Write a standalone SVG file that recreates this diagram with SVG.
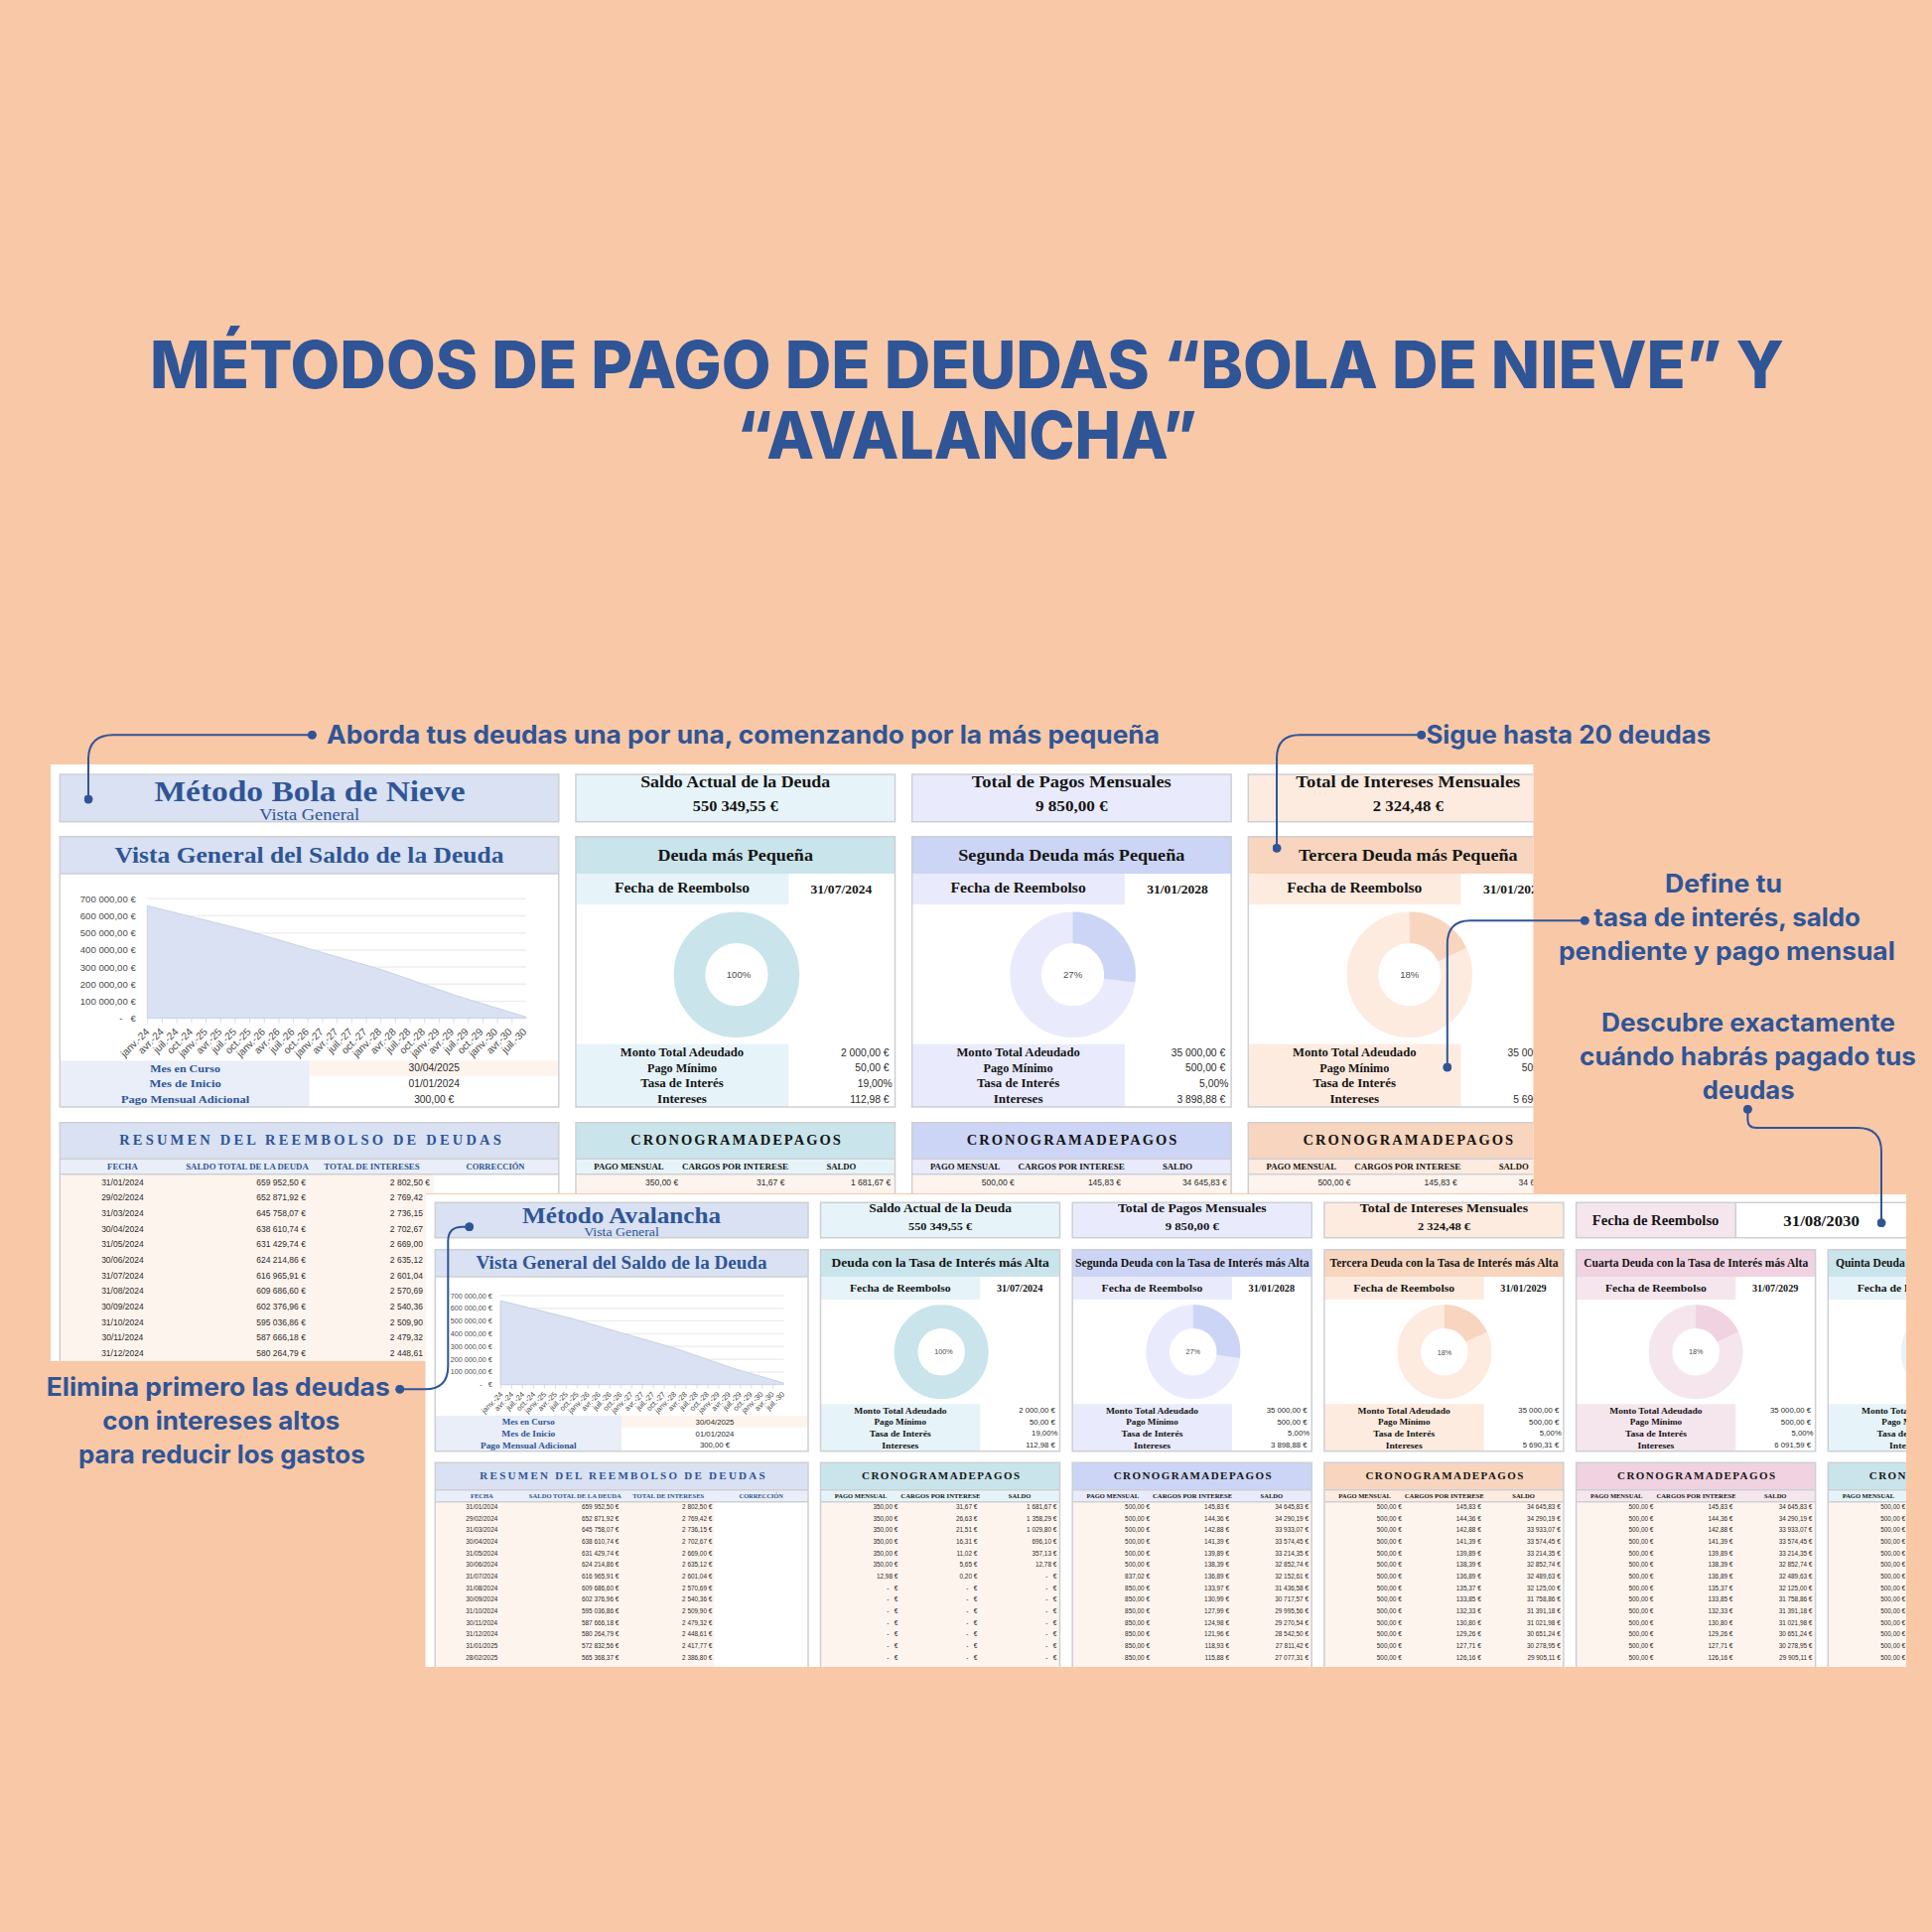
<svg xmlns="http://www.w3.org/2000/svg" width="1946" height="1946" viewBox="0 0 1946 1946">
<style>
text{font-family:"Liberation Serif",serif}
.m{text-anchor:middle}.e{text-anchor:end}
.t{font-family:"Inter","Liberation Sans",sans-serif;font-weight:800;font-size:66px;fill:#2f5597;text-anchor:middle}
.c{font-family:"Inter","Liberation Sans",sans-serif;font-weight:700;font-size:25px;fill:#2f5597}
.b{font-weight:700}.bl{fill:#2f5597}.k{fill:#151515}
.a{font-family:"Liberation Sans",sans-serif;fill:#2a2a2a}
.g{font-family:"Liberation Sans",sans-serif;fill:#4c4c4c}
.a1{font-size:8.5px}.a1v{font-size:10.3px}.a2{font-size:6.4px}.a2v{font-size:7.75px}
.g1{font-size:9.6px}.g2{font-size:7.2px}
.xl text{font-size:10.3px}.xm text{font-size:7.7px}
.box{fill:none;stroke:#cdcfd3;stroke-width:1.5}
.grid{stroke:#eeeeee;stroke-width:1.5}
.area{stroke:#c8d2e8;stroke-width:1}
.tick{fill:none;stroke:#dedede}
.blue{fill:#d9e1f2}.blueL{fill:#e9eef8}.row{fill:#fef4ee}
.teal{fill:#c9e4eb}.tealL{fill:#e6f4f9}
.peri{fill:#ccd5f5}.periL{fill:#e9ebfd}
.pch{fill:#f8d5be}.pchL{fill:#feebdf}
.pnk{fill:#f0d2e1}.pnkL{fill:#f5e6ee}
.conn{fill:none;stroke:#2f5597;stroke-width:2;marker-start:url(#dot);marker-end:url(#dot)}
.ring{fill:none}
</style>
<defs>
<marker id="dot" viewBox="0 0 10 10" refX="5" refY="5" markerWidth="9" markerHeight="9" markerUnits="userSpaceOnUse"><circle cx="5" cy="5" r="5" fill="#2f5597"/></marker>
<clipPath id="clipA"><rect x="51" y="770" width="1493.4" height="432"/><rect x="51" y="1202" width="377.3" height="169"/></clipPath>
<clipPath id="clipB"><rect x="428.3" y="1203" width="1491.7" height="476"/></clipPath>
<clipPath id="ca"><rect x="106.5" y="1167" width="107.8" height="16"/></clipPath>
<clipPath id="cb"><rect x="80.3" y="1500" width="80.4" height="13"/></clipPath>
</defs>
<rect width="1946" height="1946" fill="#f9c8a7"/>
<g id="title">
<text class="t" x="974" y="391" textLength="1646" lengthAdjust="spacingAndGlyphs">MÉTODOS DE PAGO DE DEUDAS “BOLA DE NIEVE” Y</text>
<text class="t" x="974" y="462" textLength="464" lengthAdjust="spacingAndGlyphs">“AVALANCHA”</text>
</g>

<g id="sheet-bola" clip-path="url(#clipA)">
<rect x="51" y="770" width="1494" height="602" fill="#fff"/>
<g id="bola-header">
<rect class="blue" x="60.3" y="780" width="502.5" height="47.7"/><rect class="box" x="60.3" y="780" width="502.5" height="47.7"/>
<text class="b bl m" x="312" y="806.7" font-size="30" textLength="313" lengthAdjust="spacingAndGlyphs">Método Bola de Nieve</text>
<text class="bl m" x="311.7" y="825.6" font-size="17" textLength="101" lengthAdjust="spacingAndGlyphs">Vista General</text>
</g>
<g id="bola-chart">
<rect class="blue" x="60.3" y="842.7" width="502.5" height="37.3"/>
<rect class="blueL" x="60.3" y="1068.3" width="251.4" height="46.7"/><rect class="row" x="311.7" y="1068.3" width="251.1" height="15.7"/>
<rect class="box" x="60.3" y="842.7" width="502.5" height="272.3"/><path class="box" d="M60.3 880H562.8"/>
<text class="b bl m" x="311.5" y="869.3" font-size="24" textLength="392" lengthAdjust="spacingAndGlyphs">Vista General del Saldo de la Deuda</text>
<path class="grid" d="M148.3 905.3H530M148.3 922.5H530M148.3 939.7H530M148.3 956.9H530M148.3 974.1H530M148.3 991.3H530M148.3 1008.5H530"/>
<path class="tick" d="M148.3 1028H530" stroke-width="5" stroke-dasharray="1 13.68"/>
<path class="blue area" d="M148.3 1025.7V912.3L246.7 936.7L311.7 955.7L384.4 976.7L461 1003.3L529.9 1024.3V1025.7Z"/>
<g>
<text class="g g1 e" x="136.8" y="908.7">700 000,00 €</text>
<text class="g g1 e" x="136.8" y="925.9">600 000,00 €</text>
<text class="g g1 e" x="136.8" y="943.1">500 000,00 €</text>
<text class="g g1 e" x="136.8" y="960.3">400 000,00 €</text>
<text class="g g1 e" x="136.8" y="977.5">300 000,00 €</text>
<text class="g g1 e" x="136.8" y="994.7">200 000,00 €</text>
<text class="g g1 e" x="136.8" y="1011.9">100 000,00 €</text>
<text class="g g1 e" x="136.8" y="1029.1">-&#160;&#160;&#160;€</text>
</g>
<g class="xl">
<text class="g g1 e" x="151" y="1040" transform="rotate(-45 151 1040)">janv.-24</text>
<text class="g g1 e" x="165.6" y="1040" transform="rotate(-45 165.6 1040)">avr.-24</text>
<text class="g g1 e" x="180.2" y="1040" transform="rotate(-45 180.2 1040)">juil.-24</text>
<text class="g g1 e" x="194.8" y="1040" transform="rotate(-45 194.8 1040)">oct.-24</text>
<text class="g g1 e" x="209.5" y="1040" transform="rotate(-45 209.5 1040)">janv.-25</text>
<text class="g g1 e" x="224.1" y="1040" transform="rotate(-45 224.1 1040)">avr.-25</text>
<text class="g g1 e" x="238.7" y="1040" transform="rotate(-45 238.7 1040)">juil.-25</text>
<text class="g g1 e" x="253.3" y="1040" transform="rotate(-45 253.3 1040)">oct.-25</text>
<text class="g g1 e" x="267.9" y="1040" transform="rotate(-45 267.9 1040)">janv.-26</text>
<text class="g g1 e" x="282.5" y="1040" transform="rotate(-45 282.5 1040)">avr.-26</text>
<text class="g g1 e" x="297.2" y="1040" transform="rotate(-45 297.2 1040)">juil.-26</text>
<text class="g g1 e" x="311.8" y="1040" transform="rotate(-45 311.8 1040)">oct.-26</text>
<text class="g g1 e" x="326.4" y="1040" transform="rotate(-45 326.4 1040)">janv.-27</text>
<text class="g g1 e" x="341" y="1040" transform="rotate(-45 341 1040)">avr.-27</text>
<text class="g g1 e" x="355.6" y="1040" transform="rotate(-45 355.6 1040)">juil.-27</text>
<text class="g g1 e" x="370.2" y="1040" transform="rotate(-45 370.2 1040)">oct.-27</text>
<text class="g g1 e" x="384.8" y="1040" transform="rotate(-45 384.8 1040)">janv.-28</text>
<text class="g g1 e" x="399.5" y="1040" transform="rotate(-45 399.5 1040)">avr.-28</text>
<text class="g g1 e" x="414.1" y="1040" transform="rotate(-45 414.1 1040)">juil.-28</text>
<text class="g g1 e" x="428.7" y="1040" transform="rotate(-45 428.7 1040)">oct.-28</text>
<text class="g g1 e" x="443.3" y="1040" transform="rotate(-45 443.3 1040)">janv.-29</text>
<text class="g g1 e" x="457.9" y="1040" transform="rotate(-45 457.9 1040)">avr.-29</text>
<text class="g g1 e" x="472.5" y="1040" transform="rotate(-45 472.5 1040)">juil.-29</text>
<text class="g g1 e" x="487.2" y="1040" transform="rotate(-45 487.2 1040)">oct.-29</text>
<text class="g g1 e" x="501.8" y="1040" transform="rotate(-45 501.8 1040)">janv.-30</text>
<text class="g g1 e" x="516.4" y="1040" transform="rotate(-45 516.4 1040)">avr.-30</text>
<text class="g g1 e" x="531" y="1040" transform="rotate(-45 531 1040)">juil.-30</text>
</g>
<text class="b bl m" x="186.6" y="1079.5" font-size="11" textLength="70.8" lengthAdjust="spacingAndGlyphs">Mes en Curso</text>
<text class="b bl m" x="186.6" y="1095.2" font-size="11" textLength="72.3" lengthAdjust="spacingAndGlyphs">Mes de Inicio</text>
<text class="b bl m" x="186.6" y="1110.9" font-size="11" textLength="129.3" lengthAdjust="spacingAndGlyphs">Pago Mensual Adicional</text>
<text class="a a1v m" x="437.2" y="1079.4">30/04/2025</text>
<text class="a a1v m" x="437.2" y="1095.1">01/01/2024</text>
<text class="a a1v m" x="437.2" y="1110.8">300,00 €</text>
</g>
<g id="bola-resumen">
<rect class="blue" x="60.3" y="1130.7" width="502.5" height="36.6"/>
<rect class="blueL" x="60.3" y="1167.3" width="502.5" height="15.4"/>
<rect fill="#fff" x="60.3" y="1182.7" width="502.5" height="190"/>
<rect class="row" x="60.3" y="1182.7" width="376.4" height="190"/>
<path class="box" d="M60.3 1372V1130.7H562.8V1372M60.3 1167.3H562.8M60.3 1182.7H562.8"/>
<text class="b bl m" x="312.5" y="1153" font-size="14.5" textLength="384.6">RESUMEN DEL REEMBOLSO DE DEUDAS</text>
<text class="b bl m" x="123.4" y="1178.3" font-size="9" textLength="30.6" lengthAdjust="spacingAndGlyphs">FECHA</text>
<text class="b bl m" x="249" y="1178.3" font-size="9" textLength="123.6" lengthAdjust="spacingAndGlyphs">SALDO TOTAL DE LA DEUDA</text>
<text class="b bl m" x="374.5" y="1178.3" font-size="9" textLength="96.4" lengthAdjust="spacingAndGlyphs">TOTAL DE INTERESES</text>
<text class="b bl m" x="499" y="1178.3" font-size="9" textLength="59" lengthAdjust="spacingAndGlyphs">CORRECCIÓN</text>
<text class="a a1 m"><tspan x="123.4" y="1193.7">31/01/2024</tspan><tspan x="123.4" dy="15.67">29/02/2024</tspan><tspan x="123.4" dy="15.67">31/03/2024</tspan><tspan x="123.4" dy="15.67">30/04/2024</tspan><tspan x="123.4" dy="15.67">31/05/2024</tspan><tspan x="123.4" dy="15.67">30/06/2024</tspan><tspan x="123.4" dy="15.67">31/07/2024</tspan><tspan x="123.4" dy="15.67">31/08/2024</tspan><tspan x="123.4" dy="15.67">30/09/2024</tspan><tspan x="123.4" dy="15.67">31/10/2024</tspan><tspan x="123.4" dy="15.67">30/11/2024</tspan><tspan x="123.4" dy="15.67">31/12/2024</tspan></text>
<text class="a a1 e"><tspan x="307.9" y="1193.7">659 952,50 €</tspan><tspan x="307.9" dy="15.67">652 871,92 €</tspan><tspan x="307.9" dy="15.67">645 758,07 €</tspan><tspan x="307.9" dy="15.67">638 610,74 €</tspan><tspan x="307.9" dy="15.67">631 429,74 €</tspan><tspan x="307.9" dy="15.67">624 214,86 €</tspan><tspan x="307.9" dy="15.67">616 965,91 €</tspan><tspan x="307.9" dy="15.67">609 686,60 €</tspan><tspan x="307.9" dy="15.67">602 376,96 €</tspan><tspan x="307.9" dy="15.67">595 036,86 €</tspan><tspan x="307.9" dy="15.67">587 666,18 €</tspan><tspan x="307.9" dy="15.67">580 264,79 €</tspan></text>
<text class="a a1 e"><tspan x="433" y="1193.7">2 802,50 €</tspan><tspan x="433" dy="15.67">2 769,42 €</tspan><tspan x="433" dy="15.67">2 736,15 €</tspan><tspan x="433" dy="15.67">2 702,67 €</tspan><tspan x="433" dy="15.67">2 669,00 €</tspan><tspan x="433" dy="15.67">2 635,12 €</tspan><tspan x="433" dy="15.67">2 601,04 €</tspan><tspan x="433" dy="15.67">2 570,69 €</tspan><tspan x="433" dy="15.67">2 540,36 €</tspan><tspan x="433" dy="15.67">2 509,90 €</tspan><tspan x="433" dy="15.67">2 479,32 €</tspan><tspan x="433" dy="15.67">2 448,61 €</tspan></text>
</g>

<g id="bola-col1" transform="translate(580 0)">
<rect class="tealL" x="0" y="780" width="321.5" height="47.7"/><rect class="box" x="0" y="780" width="321.5" height="47.7"/>
<text class="b k m" x="160.7" y="793.3" font-size="17" textLength="191" lengthAdjust="spacingAndGlyphs">Saldo Actual de la Deuda</text>
<text class="b k m" x="160.7" y="817" font-size="15" textLength="85.7" lengthAdjust="spacingAndGlyphs">550 349,55 €</text>
<rect class="teal" x="0" y="842.7" width="321.5" height="37.3"/><rect class="tealL" x="0" y="880" width="214.3" height="31"/><rect class="tealL" x="0" y="1051.7" width="214.3" height="63.3"/>
<rect class="box" x="0" y="842.7" width="321.5" height="272.3"/>
<text class="b k m" x="160.7" y="866.7" font-size="17" textLength="156.5" lengthAdjust="spacingAndGlyphs">Deuda más Pequeña</text>
<text class="b k m" x="107" y="899.3" font-size="15" textLength="136.2" lengthAdjust="spacingAndGlyphs">Fecha de Reembolso</text>
<text class="b k m" x="267.4" y="900" font-size="13" textLength="61.6" lengthAdjust="spacingAndGlyphs">31/07/2024</text>
<circle class="ring" cx="162" cy="981.7" r="47.45" stroke="#c9e4eb" stroke-width="31.7"/>
<text class="g g1 m" x="164" y="985.2">100%</text>
<text class="b k m" x="107" y="1064" font-size="12" textLength="124.4" lengthAdjust="spacingAndGlyphs">Monto Total Adeudado</text>
<text class="b k m" x="107" y="1079.7" font-size="12" textLength="70" lengthAdjust="spacingAndGlyphs">Pago Mínimo</text>
<text class="b k m" x="107" y="1095.3" font-size="12" textLength="83.4" lengthAdjust="spacingAndGlyphs">Tasa de Interés</text>
<text class="b k m" x="107" y="1111" font-size="12" textLength="49.8" lengthAdjust="spacingAndGlyphs">Intereses</text>
<text class="a a1v e"><tspan x="315.6" y="1063.7">2 000,00 €</tspan><tspan x="315.6" dy="15.67">50,00 €</tspan><tspan x="318.7" dy="15.67">19,00%</tspan><tspan x="315.6" dy="15.67">112,98 €</tspan></text>
<rect class="teal" x="0" y="1130.7" width="321.5" height="36.6"/><rect class="tealL" x="0" y="1167.3" width="321.5" height="15.4"/><rect class="row" x="0" y="1182.7" width="321.5" height="20"/>
<path class="box" d="M0 1203V1130.7H321.5V1203M0 1167.3H321.5M0 1182.7H321.5"/>
<text class="b k m" x="161" y="1153" font-size="14.5" textLength="211.6">CRONOGRAMADEPAGOS</text>
<text class="b k m" x="53.5" y="1178.3" font-size="9" textLength="70.4" lengthAdjust="spacingAndGlyphs">PAGO MENSUAL</text>
<text class="b k m" x="163" y="1178.3" font-size="9" textLength="112" lengthAdjust="spacingAndGlyphs" clip-path="url(#ca)">CARGOS POR INTERESES</text>
<text class="b k m" x="267.4" y="1178.3" font-size="9" textLength="30" lengthAdjust="spacingAndGlyphs">SALDO</text>
<text class="a a1 e"><tspan x="103.2" y="1193.7">350,00 €</tspan><tspan x="210.4" y="1193.7">31,67 €</tspan><tspan x="317.2" y="1193.7">1 681,67 €</tspan></text>
</g>

<g id="bola-col2" transform="translate(918.6 0)">
<rect class="periL" x="0" y="780" width="321.5" height="47.7"/><rect class="box" x="0" y="780" width="321.5" height="47.7"/>
<text class="b k m" x="160.7" y="793.3" font-size="17" textLength="201" lengthAdjust="spacingAndGlyphs">Total de Pagos Mensuales</text>
<text class="b k m" x="160.7" y="817" font-size="15" textLength="72.7" lengthAdjust="spacingAndGlyphs">9 850,00 €</text>
<rect class="peri" x="0" y="842.7" width="321.5" height="37.3"/><rect class="periL" x="0" y="880" width="214.3" height="31"/><rect class="periL" x="0" y="1051.7" width="214.3" height="63.3"/>
<rect class="box" x="0" y="842.7" width="321.5" height="272.3"/>
<text class="b k m" x="160.7" y="866.7" font-size="17" textLength="228" lengthAdjust="spacingAndGlyphs">Segunda Deuda más Pequeña</text>
<text class="b k m" x="107" y="899.3" font-size="15" textLength="136.2" lengthAdjust="spacingAndGlyphs">Fecha de Reembolso</text>
<text class="b k m" x="267.4" y="900" font-size="13" textLength="61.6" lengthAdjust="spacingAndGlyphs">31/01/2028</text>
<circle class="ring" cx="162" cy="981.7" r="47.45" stroke="#e9ebfd" stroke-width="31.7"/>
<path class="ring" d="M162 934.25A47.45 47.45 0 0 1 209.07 987.63" stroke="#ccd5f5" stroke-width="31.7"/>
<text class="g g1 m" x="162" y="985.2">27%</text>
<text class="b k m" x="107" y="1064" font-size="12" textLength="124.4" lengthAdjust="spacingAndGlyphs">Monto Total Adeudado</text>
<text class="b k m" x="107" y="1079.7" font-size="12" textLength="70" lengthAdjust="spacingAndGlyphs">Pago Mínimo</text>
<text class="b k m" x="107" y="1095.3" font-size="12" textLength="83.4" lengthAdjust="spacingAndGlyphs">Tasa de Interés</text>
<text class="b k m" x="107" y="1111" font-size="12" textLength="49.8" lengthAdjust="spacingAndGlyphs">Intereses</text>
<text class="a a1v e"><tspan x="315.6" y="1063.7">35 000,00 €</tspan><tspan x="315.6" dy="15.67">500,00 €</tspan><tspan x="318.7" dy="15.67">5,00%</tspan><tspan x="315.6" dy="15.67">3 898,88 €</tspan></text>
<rect class="peri" x="0" y="1130.7" width="321.5" height="36.6"/><rect class="periL" x="0" y="1167.3" width="321.5" height="15.4"/><rect class="row" x="0" y="1182.7" width="321.5" height="20"/>
<path class="box" d="M0 1203V1130.7H321.5V1203M0 1167.3H321.5M0 1182.7H321.5"/>
<text class="b k m" x="161" y="1153" font-size="14.5" textLength="211.6">CRONOGRAMADEPAGOS</text>
<text class="b k m" x="53.5" y="1178.3" font-size="9" textLength="70.4" lengthAdjust="spacingAndGlyphs">PAGO MENSUAL</text>
<text class="b k m" x="163" y="1178.3" font-size="9" textLength="112" lengthAdjust="spacingAndGlyphs" clip-path="url(#ca)">CARGOS POR INTERESES</text>
<text class="b k m" x="267.4" y="1178.3" font-size="9" textLength="30" lengthAdjust="spacingAndGlyphs">SALDO</text>
<text class="a a1 e"><tspan x="103.2" y="1193.7">500,00 €</tspan><tspan x="210.4" y="1193.7">145,83 €</tspan><tspan x="317.2" y="1193.7">34 645,83 €</tspan></text>
</g>

<g id="bola-col3" transform="translate(1257.3 0)">
<rect class="pchL" x="0" y="780" width="321.5" height="47.7"/><rect class="box" x="0" y="780" width="321.5" height="47.7"/>
<text class="b k m" x="161" y="793.3" font-size="17" textLength="226" lengthAdjust="spacingAndGlyphs">Total de Intereses Mensuales</text>
<text class="b k m" x="161" y="817" font-size="15" textLength="70.9" lengthAdjust="spacingAndGlyphs">2 324,48 €</text>
<rect class="pch" x="0" y="842.7" width="321.5" height="37.3"/><rect class="pchL" x="0" y="880" width="214.3" height="31"/><rect class="pchL" x="0" y="1051.7" width="214.3" height="63.3"/>
<rect class="box" x="0" y="842.7" width="321.5" height="272.3"/>
<text class="b k m" x="161" y="866.7" font-size="17" textLength="220.7" lengthAdjust="spacingAndGlyphs">Tercera Deuda más Pequeña</text>
<text class="b k m" x="107" y="899.3" font-size="15" textLength="136.2" lengthAdjust="spacingAndGlyphs">Fecha de Reembolso</text>
<text class="b k m" x="267.4" y="900" font-size="13" textLength="61.6" lengthAdjust="spacingAndGlyphs">31/01/2029</text>
<circle class="ring" cx="162.5" cy="981.7" r="47.45" stroke="#feebdf" stroke-width="31.7"/>
<path class="ring" d="M162.5 934.25A47.45 47.45 0 0 1 205.4 961.5" stroke="#f8d5be" stroke-width="31.7"/>
<text class="g g1 m" x="162.5" y="985.2">18%</text>
<text class="b k m" x="107" y="1064" font-size="12" textLength="124.4" lengthAdjust="spacingAndGlyphs">Monto Total Adeudado</text>
<text class="b k m" x="107" y="1079.7" font-size="12" textLength="70" lengthAdjust="spacingAndGlyphs">Pago Mínimo</text>
<text class="b k m" x="107" y="1095.3" font-size="12" textLength="83.4" lengthAdjust="spacingAndGlyphs">Tasa de Interés</text>
<text class="b k m" x="107" y="1111" font-size="12" textLength="49.8" lengthAdjust="spacingAndGlyphs">Intereses</text>
<text class="a a1v e"><tspan x="315.6" y="1063.7">35 000,00 €</tspan><tspan x="315.6" dy="15.67">500,00 €</tspan><tspan x="318.7" dy="15.67">5,00%</tspan><tspan x="315.6" dy="15.67">5 690,31 €</tspan></text>
<rect class="pch" x="0" y="1130.7" width="321.5" height="36.6"/><rect class="pchL" x="0" y="1167.3" width="321.5" height="15.4"/><rect class="row" x="0" y="1182.7" width="321.5" height="20"/>
<path class="box" d="M0 1203V1130.7H321.5V1203M0 1167.3H321.5M0 1182.7H321.5"/>
<text class="b k m" x="161" y="1153" font-size="14.5" textLength="211.6">CRONOGRAMADEPAGOS</text>
<text class="b k m" x="53.5" y="1178.3" font-size="9" textLength="70.4" lengthAdjust="spacingAndGlyphs">PAGO MENSUAL</text>
<text class="b k m" x="163" y="1178.3" font-size="9" textLength="112" lengthAdjust="spacingAndGlyphs" clip-path="url(#ca)">CARGOS POR INTERESES</text>
<text class="b k m" x="267.4" y="1178.3" font-size="9" textLength="30" lengthAdjust="spacingAndGlyphs">SALDO</text>
<text class="a a1 e"><tspan x="103.2" y="1193.7">500,00 €</tspan><tspan x="210.4" y="1193.7">145,83 €</tspan><tspan x="317.2" y="1193.7">34 645,83 €</tspan></text>
</g>
</g>

<rect x="40" y="1371" width="388.3" height="320" fill="#f9c8a7"/>

<g id="sheet-avalancha" clip-path="url(#clipB)">
<rect x="428.3" y="1203" width="1491.7" height="476" fill="#fff"/>
<g id="ava-header">
<rect class="blue" x="438.3" y="1211.3" width="375.7" height="35.4"/><rect class="box" x="438.3" y="1211.3" width="375.7" height="35.4"/>
<text class="b bl m" x="626" y="1231.7" font-size="23" textLength="200" lengthAdjust="spacingAndGlyphs">Método Avalancha</text>
<text class="bl m" x="626" y="1245.3" font-size="13" textLength="75.7" lengthAdjust="spacingAndGlyphs">Vista General</text>
</g>
<g id="ava-chart">
<rect class="blue" x="438.3" y="1258.7" width="375.7" height="27.3"/>
<rect class="blueL" x="438.3" y="1426" width="187.7" height="35.7"/><rect class="row" x="626" y="1426" width="188" height="11.7"/>
<rect class="box" x="438.3" y="1258.7" width="375.7" height="203"/><path class="box" d="M438.3 1286H814"/>
<text class="b bl m" x="626" y="1278.3" font-size="18" textLength="293" lengthAdjust="spacingAndGlyphs">Vista General del Saldo de la Deuda</text>
<path class="grid" d="M504 1305H789.3M504 1317.8H789.3M504 1330.6H789.3M504 1343.4H789.3M504 1356.2H789.3M504 1369H789.3M504 1381.9H789.3"/>
<path class="tick" d="M504 1396.7H789.3" stroke-width="4" stroke-dasharray="1 9.97"/>
<path class="blue area" d="M504 1394.7V1310L577.6 1328.5L626.2 1342.6L680.5 1358.2L737.8 1378L789.3 1393V1394.7Z"/>
<g>
<text class="g g2 e" x="495.7" y="1307.5">700 000,00 €</text>
<text class="g g2 e" x="495.7" y="1320.3">600 000,00 €</text>
<text class="g g2 e" x="495.7" y="1333.1">500 000,00 €</text>
<text class="g g2 e" x="495.7" y="1345.9">400 000,00 €</text>
<text class="g g2 e" x="495.7" y="1358.7">300 000,00 €</text>
<text class="g g2 e" x="495.7" y="1371.5">200 000,00 €</text>
<text class="g g2 e" x="495.7" y="1384.4">100 000,00 €</text>
<text class="g g2 e" x="495.7" y="1397.2">-&#160;&#160;&#160;€</text>
</g>
<g class="xm">
<text class="g g2 e" x="507" y="1405" transform="rotate(-45 507 1405)">janv.-24</text>
<text class="g g2 e" x="517.9" y="1405" transform="rotate(-45 517.9 1405)">avr.-24</text>
<text class="g g2 e" x="528.8" y="1405" transform="rotate(-45 528.8 1405)">juil.-24</text>
<text class="g g2 e" x="539.8" y="1405" transform="rotate(-45 539.8 1405)">oct.-24</text>
<text class="g g2 e" x="550.7" y="1405" transform="rotate(-45 550.7 1405)">janv.-25</text>
<text class="g g2 e" x="561.6" y="1405" transform="rotate(-45 561.6 1405)">avr.-25</text>
<text class="g g2 e" x="572.5" y="1405" transform="rotate(-45 572.5 1405)">juil.-25</text>
<text class="g g2 e" x="583.4" y="1405" transform="rotate(-45 583.4 1405)">oct.-25</text>
<text class="g g2 e" x="594.4" y="1405" transform="rotate(-45 594.4 1405)">janv.-26</text>
<text class="g g2 e" x="605.3" y="1405" transform="rotate(-45 605.3 1405)">avr.-26</text>
<text class="g g2 e" x="616.2" y="1405" transform="rotate(-45 616.2 1405)">juil.-26</text>
<text class="g g2 e" x="627.1" y="1405" transform="rotate(-45 627.1 1405)">oct.-26</text>
<text class="g g2 e" x="638" y="1405" transform="rotate(-45 638 1405)">janv.-27</text>
<text class="g g2 e" x="649" y="1405" transform="rotate(-45 649 1405)">avr.-27</text>
<text class="g g2 e" x="659.9" y="1405" transform="rotate(-45 659.9 1405)">juil.-27</text>
<text class="g g2 e" x="670.8" y="1405" transform="rotate(-45 670.8 1405)">oct.-27</text>
<text class="g g2 e" x="681.7" y="1405" transform="rotate(-45 681.7 1405)">janv.-28</text>
<text class="g g2 e" x="692.6" y="1405" transform="rotate(-45 692.6 1405)">avr.-28</text>
<text class="g g2 e" x="703.6" y="1405" transform="rotate(-45 703.6 1405)">juil.-28</text>
<text class="g g2 e" x="714.5" y="1405" transform="rotate(-45 714.5 1405)">oct.-28</text>
<text class="g g2 e" x="725.4" y="1405" transform="rotate(-45 725.4 1405)">janv.-29</text>
<text class="g g2 e" x="736.3" y="1405" transform="rotate(-45 736.3 1405)">avr.-29</text>
<text class="g g2 e" x="747.2" y="1405" transform="rotate(-45 747.2 1405)">juil.-29</text>
<text class="g g2 e" x="758.2" y="1405" transform="rotate(-45 758.2 1405)">oct.-29</text>
<text class="g g2 e" x="769.1" y="1405" transform="rotate(-45 769.1 1405)">janv.-30</text>
<text class="g g2 e" x="780" y="1405" transform="rotate(-45 780 1405)">avr.-30</text>
<text class="g g2 e" x="790.9" y="1405" transform="rotate(-45 790.9 1405)">juil.-30</text>
</g>
<text class="b bl m" x="532.3" y="1435.3" font-size="8.5" textLength="53" lengthAdjust="spacingAndGlyphs">Mes en Curso</text>
<text class="b bl m" x="532.3" y="1447" font-size="8.5" textLength="54" lengthAdjust="spacingAndGlyphs">Mes de Inicio</text>
<text class="b bl m" x="532.3" y="1458.6" font-size="8.5" textLength="96.7" lengthAdjust="spacingAndGlyphs">Pago Mensual Adicional</text>
<text class="a a2v m" x="720" y="1435">30/04/2025</text>
<text class="a a2v m" x="720" y="1446.7">01/01/2024</text>
<text class="a a2v m" x="720" y="1458.3">300,00 €</text>
</g>
<g id="ava-resumen">
<rect class="blue" x="438.3" y="1473.3" width="375.7" height="27.4"/>
<rect class="blueL" x="438.3" y="1500.7" width="375.7" height="12"/>
<rect class="row" x="438.3" y="1512.7" width="281" height="170"/>
<path class="box" d="M438.3 1690V1473.3H814V1690M438.3 1500.7H814M438.3 1512.7H814"/>
<text class="b bl m" x="627" y="1490" font-size="11" textLength="287.3">RESUMEN DEL REEMBOLSO DE DEUDAS</text>
<text class="b bl m" x="485.3" y="1508.7" font-size="6.8" textLength="22.7" lengthAdjust="spacingAndGlyphs">FECHA</text>
<text class="b bl m" x="579.3" y="1508.7" font-size="6.8" textLength="93" lengthAdjust="spacingAndGlyphs">SALDO TOTAL DE LA DEUDA</text>
<text class="b bl m" x="673.3" y="1508.7" font-size="6.8" textLength="72" lengthAdjust="spacingAndGlyphs">TOTAL DE INTERESES</text>
<text class="b bl m" x="766.7" y="1508.7" font-size="6.8" textLength="44.3" lengthAdjust="spacingAndGlyphs">CORRECCIÓN</text>
<text class="a a2 m"><tspan x="485.3" y="1520">31/01/2024</tspan><tspan x="485.3" dy="11.67">29/02/2024</tspan><tspan x="485.3" dy="11.67">31/03/2024</tspan><tspan x="485.3" dy="11.67">30/04/2024</tspan><tspan x="485.3" dy="11.67">31/05/2024</tspan><tspan x="485.3" dy="11.67">30/06/2024</tspan><tspan x="485.3" dy="11.67">31/07/2024</tspan><tspan x="485.3" dy="11.67">31/08/2024</tspan><tspan x="485.3" dy="11.67">30/09/2024</tspan><tspan x="485.3" dy="11.67">31/10/2024</tspan><tspan x="485.3" dy="11.67">30/11/2024</tspan><tspan x="485.3" dy="11.67">31/12/2024</tspan><tspan x="485.3" dy="11.67">31/01/2025</tspan><tspan x="485.3" dy="11.67">28/02/2025</tspan></text>
<text class="a a2 e"><tspan x="623.3" y="1520">659 952,50 €</tspan><tspan x="623.3" dy="11.67">652 871,92 €</tspan><tspan x="623.3" dy="11.67">645 758,07 €</tspan><tspan x="623.3" dy="11.67">638 610,74 €</tspan><tspan x="623.3" dy="11.67">631 429,74 €</tspan><tspan x="623.3" dy="11.67">624 214,86 €</tspan><tspan x="623.3" dy="11.67">616 965,91 €</tspan><tspan x="623.3" dy="11.67">609 686,60 €</tspan><tspan x="623.3" dy="11.67">602 376,96 €</tspan><tspan x="623.3" dy="11.67">595 036,86 €</tspan><tspan x="623.3" dy="11.67">587 666,18 €</tspan><tspan x="623.3" dy="11.67">580 264,79 €</tspan><tspan x="623.3" dy="11.67">572 832,56 €</tspan><tspan x="623.3" dy="11.67">565 368,37 €</tspan></text>
<text class="a a2 e"><tspan x="717.3" y="1520">2 802,50 €</tspan><tspan x="717.3" dy="11.67">2 769,42 €</tspan><tspan x="717.3" dy="11.67">2 736,15 €</tspan><tspan x="717.3" dy="11.67">2 702,67 €</tspan><tspan x="717.3" dy="11.67">2 669,00 €</tspan><tspan x="717.3" dy="11.67">2 635,12 €</tspan><tspan x="717.3" dy="11.67">2 601,04 €</tspan><tspan x="717.3" dy="11.67">2 570,69 €</tspan><tspan x="717.3" dy="11.67">2 540,36 €</tspan><tspan x="717.3" dy="11.67">2 509,90 €</tspan><tspan x="717.3" dy="11.67">2 479,32 €</tspan><tspan x="717.3" dy="11.67">2 448,61 €</tspan><tspan x="717.3" dy="11.67">2 417,77 €</tspan><tspan x="717.3" dy="11.67">2 386,80 €</tspan></text>
</g>

<g id="ava-col1" transform="translate(826.5 0)">
<rect class="tealL" x="0" y="1211.3" width="241" height="35.4"/><rect class="box" x="0" y="1211.3" width="241" height="35.4"/>
<text class="b k m" x="120.6" y="1221.3" font-size="12.5" textLength="143.6" lengthAdjust="spacingAndGlyphs">Saldo Actual de la Deuda</text>
<text class="b k m" x="120.6" y="1239.3" font-size="11" textLength="64" lengthAdjust="spacingAndGlyphs">550 349,55 €</text>
<rect class="teal" x="0" y="1258.7" width="241" height="27.3"/><rect class="tealL" x="0" y="1286" width="160.7" height="23"/><rect class="tealL" x="0" y="1414.3" width="160.7" height="47.4"/>
<rect class="box" x="0" y="1258.7" width="241" height="203"/>
<text class="b k m" x="120.6" y="1276" font-size="13" textLength="219.3" lengthAdjust="spacingAndGlyphs">Deuda con la Tasa de Interés más Alta</text>
<text class="b k m" x="80.3" y="1300.7" font-size="11.3" textLength="101.8" lengthAdjust="spacingAndGlyphs">Fecha de Reembolso</text>
<text class="b k m" x="200.6" y="1301" font-size="9.8" textLength="46.4" lengthAdjust="spacingAndGlyphs">31/07/2024</text>
<circle class="ring" cx="121.7" cy="1361.7" r="35.6" stroke="#c9e4eb" stroke-width="23.7"/>
<text class="g g2 m" x="124" y="1364.2">100%</text>
<text class="b k m" x="80.3" y="1423.5" font-size="9" textLength="93.2" lengthAdjust="spacingAndGlyphs">Monto Total Adeudado</text>
<text class="b k m" x="80.3" y="1435.2" font-size="9" textLength="52.5" lengthAdjust="spacingAndGlyphs">Pago Mínimo</text>
<text class="b k m" x="80.3" y="1446.9" font-size="9" textLength="62" lengthAdjust="spacingAndGlyphs">Tasa de Interés</text>
<text class="b k m" x="80.3" y="1458.5" font-size="9" textLength="37" lengthAdjust="spacingAndGlyphs">Intereses</text>
<text class="a a2v e"><tspan x="236.4" y="1423">2 000,00 €</tspan><tspan x="236.4" dy="11.67">50,00 €</tspan><tspan x="238.9" dy="11.67">19,00%</tspan><tspan x="236.4" dy="11.67">112,98 €</tspan></text>
<rect class="teal" x="0" y="1473.3" width="241" height="27.4"/><rect class="tealL" x="0" y="1500.7" width="241" height="12"/><rect class="row" x="0" y="1512.7" width="241" height="170"/>
<path class="box" d="M0 1690V1473.3H241V1690M0 1500.7H241M0 1512.7H241"/>
<text class="b k m" x="121" y="1490" font-size="11" textLength="159">CRONOGRAMADEPAGOS</text>
<text class="b k m" x="40.6" y="1508.7" font-size="6.8" textLength="52.5" lengthAdjust="spacingAndGlyphs">PAGO MENSUAL</text>
<text class="b k m" x="122.8" y="1508.7" font-size="6.8" textLength="84" lengthAdjust="spacingAndGlyphs" clip-path="url(#cb)">CARGOS POR INTERESES</text>
<text class="b k m" x="200.6" y="1508.7" font-size="6.8" textLength="22.5" lengthAdjust="spacingAndGlyphs">SALDO</text>
<text class="a a2 e"><tspan x="77.8" y="1520">350,00 €</tspan><tspan x="77.8" dy="11.67">350,00 €</tspan><tspan x="77.8" dy="11.67">350,00 €</tspan><tspan x="77.8" dy="11.67">350,00 €</tspan><tspan x="77.8" dy="11.67">350,00 €</tspan><tspan x="77.8" dy="11.67">350,00 €</tspan><tspan x="77.8" dy="11.67">12,98 €</tspan><tspan x="77.8" dy="11.67">-&#160;&#160;&#160;€</tspan><tspan x="77.8" dy="11.67">-&#160;&#160;&#160;€</tspan><tspan x="77.8" dy="11.67">-&#160;&#160;&#160;€</tspan><tspan x="77.8" dy="11.67">-&#160;&#160;&#160;€</tspan><tspan x="77.8" dy="11.67">-&#160;&#160;&#160;€</tspan><tspan x="77.8" dy="11.67">-&#160;&#160;&#160;€</tspan><tspan x="77.8" dy="11.67">-&#160;&#160;&#160;€</tspan></text>
<text class="a a2 e"><tspan x="157.8" y="1520">31,67 €</tspan><tspan x="157.8" dy="11.67">26,63 €</tspan><tspan x="157.8" dy="11.67">21,51 €</tspan><tspan x="157.8" dy="11.67">16,31 €</tspan><tspan x="157.8" dy="11.67">11,02 €</tspan><tspan x="157.8" dy="11.67">5,65 €</tspan><tspan x="157.8" dy="11.67">0,20 €</tspan><tspan x="157.8" dy="11.67">-&#160;&#160;&#160;€</tspan><tspan x="157.8" dy="11.67">-&#160;&#160;&#160;€</tspan><tspan x="157.8" dy="11.67">-&#160;&#160;&#160;€</tspan><tspan x="157.8" dy="11.67">-&#160;&#160;&#160;€</tspan><tspan x="157.8" dy="11.67">-&#160;&#160;&#160;€</tspan><tspan x="157.8" dy="11.67">-&#160;&#160;&#160;€</tspan><tspan x="157.8" dy="11.67">-&#160;&#160;&#160;€</tspan></text>
<text class="a a2 e"><tspan x="237.8" y="1520">1 681,67 €</tspan><tspan x="237.8" dy="11.67">1 358,29 €</tspan><tspan x="237.8" dy="11.67">1 029,80 €</tspan><tspan x="237.8" dy="11.67">696,10 €</tspan><tspan x="237.8" dy="11.67">357,13 €</tspan><tspan x="237.8" dy="11.67">12,78 €</tspan><tspan x="237.8" dy="11.67">-&#160;&#160;&#160;€</tspan><tspan x="237.8" dy="11.67">-&#160;&#160;&#160;€</tspan><tspan x="237.8" dy="11.67">-&#160;&#160;&#160;€</tspan><tspan x="237.8" dy="11.67">-&#160;&#160;&#160;€</tspan><tspan x="237.8" dy="11.67">-&#160;&#160;&#160;€</tspan><tspan x="237.8" dy="11.67">-&#160;&#160;&#160;€</tspan><tspan x="237.8" dy="11.67">-&#160;&#160;&#160;€</tspan><tspan x="237.8" dy="11.67">-&#160;&#160;&#160;€</tspan></text>
</g>

<g id="ava-col2" transform="translate(1080.2 0)">
<rect class="periL" x="0" y="1211.3" width="241" height="35.4"/><rect class="box" x="0" y="1211.3" width="241" height="35.4"/>
<text class="b k m" x="120.6" y="1221.3" font-size="12.5" textLength="149.6" lengthAdjust="spacingAndGlyphs">Total de Pagos Mensuales</text>
<text class="b k m" x="120.6" y="1239.3" font-size="11" textLength="54.3" lengthAdjust="spacingAndGlyphs">9 850,00 €</text>
<rect class="peri" x="0" y="1258.7" width="241" height="27.3"/><rect class="periL" x="0" y="1286" width="160.7" height="23"/><rect class="periL" x="0" y="1414.3" width="160.7" height="47.4"/>
<rect class="box" x="0" y="1258.7" width="241" height="203"/>
<text class="b k m" x="120.6" y="1276" font-size="13" textLength="235.4" lengthAdjust="spacingAndGlyphs">Segunda Deuda con la Tasa de Interés más Alta</text>
<text class="b k m" x="80.3" y="1300.7" font-size="11.3" textLength="101.8" lengthAdjust="spacingAndGlyphs">Fecha de Reembolso</text>
<text class="b k m" x="200.6" y="1301" font-size="9.8" textLength="46.4" lengthAdjust="spacingAndGlyphs">31/01/2028</text>
<circle class="ring" cx="121.6" cy="1361.7" r="35.6" stroke="#e9ebfd" stroke-width="23.7"/>
<path class="ring" d="M121.6 1326.1A35.6 35.6 0 0 1 156.9 1366.16" stroke="#ccd5f5" stroke-width="23.7"/>
<text class="g g2 m" x="121.6" y="1364.2">27%</text>
<text class="b k m" x="80.3" y="1423.5" font-size="9" textLength="93.2" lengthAdjust="spacingAndGlyphs">Monto Total Adeudado</text>
<text class="b k m" x="80.3" y="1435.2" font-size="9" textLength="52.5" lengthAdjust="spacingAndGlyphs">Pago Mínimo</text>
<text class="b k m" x="80.3" y="1446.9" font-size="9" textLength="62" lengthAdjust="spacingAndGlyphs">Tasa de Interés</text>
<text class="b k m" x="80.3" y="1458.5" font-size="9" textLength="37" lengthAdjust="spacingAndGlyphs">Intereses</text>
<text class="a a2v e"><tspan x="236.4" y="1423">35 000,00 €</tspan><tspan x="236.4" dy="11.67">500,00 €</tspan><tspan x="238.9" dy="11.67">5,00%</tspan><tspan x="236.4" dy="11.67">3 898,88 €</tspan></text>
<rect class="peri" x="0" y="1473.3" width="241" height="27.4"/><rect class="periL" x="0" y="1500.7" width="241" height="12"/><rect class="row" x="0" y="1512.7" width="241" height="170"/>
<path class="box" d="M0 1690V1473.3H241V1690M0 1500.7H241M0 1512.7H241"/>
<text class="b k m" x="121" y="1490" font-size="11" textLength="159">CRONOGRAMADEPAGOS</text>
<text class="b k m" x="40.6" y="1508.7" font-size="6.8" textLength="52.5" lengthAdjust="spacingAndGlyphs">PAGO MENSUAL</text>
<text class="b k m" x="122.8" y="1508.7" font-size="6.8" textLength="84" lengthAdjust="spacingAndGlyphs" clip-path="url(#cb)">CARGOS POR INTERESES</text>
<text class="b k m" x="200.6" y="1508.7" font-size="6.8" textLength="22.5" lengthAdjust="spacingAndGlyphs">SALDO</text>
<text class="a a2 e"><tspan x="77.8" y="1520">500,00 €</tspan><tspan x="77.8" dy="11.67">500,00 €</tspan><tspan x="77.8" dy="11.67">500,00 €</tspan><tspan x="77.8" dy="11.67">500,00 €</tspan><tspan x="77.8" dy="11.67">500,00 €</tspan><tspan x="77.8" dy="11.67">500,00 €</tspan><tspan x="77.8" dy="11.67">837,02 €</tspan><tspan x="77.8" dy="11.67">850,00 €</tspan><tspan x="77.8" dy="11.67">850,00 €</tspan><tspan x="77.8" dy="11.67">850,00 €</tspan><tspan x="77.8" dy="11.67">850,00 €</tspan><tspan x="77.8" dy="11.67">850,00 €</tspan><tspan x="77.8" dy="11.67">850,00 €</tspan><tspan x="77.8" dy="11.67">850,00 €</tspan></text>
<text class="a a2 e"><tspan x="157.8" y="1520">145,83 €</tspan><tspan x="157.8" dy="11.67">144,36 €</tspan><tspan x="157.8" dy="11.67">142,88 €</tspan><tspan x="157.8" dy="11.67">141,39 €</tspan><tspan x="157.8" dy="11.67">139,89 €</tspan><tspan x="157.8" dy="11.67">138,39 €</tspan><tspan x="157.8" dy="11.67">136,89 €</tspan><tspan x="157.8" dy="11.67">133,97 €</tspan><tspan x="157.8" dy="11.67">130,99 €</tspan><tspan x="157.8" dy="11.67">127,99 €</tspan><tspan x="157.8" dy="11.67">124,98 €</tspan><tspan x="157.8" dy="11.67">121,96 €</tspan><tspan x="157.8" dy="11.67">118,93 €</tspan><tspan x="157.8" dy="11.67">115,88 €</tspan></text>
<text class="a a2 e"><tspan x="237.8" y="1520">34 645,83 €</tspan><tspan x="237.8" dy="11.67">34 290,19 €</tspan><tspan x="237.8" dy="11.67">33 933,07 €</tspan><tspan x="237.8" dy="11.67">33 574,45 €</tspan><tspan x="237.8" dy="11.67">33 214,35 €</tspan><tspan x="237.8" dy="11.67">32 852,74 €</tspan><tspan x="237.8" dy="11.67">32 152,61 €</tspan><tspan x="237.8" dy="11.67">31 436,58 €</tspan><tspan x="237.8" dy="11.67">30 717,57 €</tspan><tspan x="237.8" dy="11.67">29 995,56 €</tspan><tspan x="237.8" dy="11.67">29 270,54 €</tspan><tspan x="237.8" dy="11.67">28 542,50 €</tspan><tspan x="237.8" dy="11.67">27 811,42 €</tspan><tspan x="237.8" dy="11.67">27 077,31 €</tspan></text>
</g>

<g id="ava-col3" transform="translate(1333.9 0)">
<rect class="pchL" x="0" y="1211.3" width="241" height="35.4"/><rect class="box" x="0" y="1211.3" width="241" height="35.4"/>
<text class="b k m" x="120.6" y="1221.3" font-size="12.5" textLength="169.3" lengthAdjust="spacingAndGlyphs">Total de Intereses Mensuales</text>
<text class="b k m" x="120.6" y="1239.3" font-size="11" textLength="53" lengthAdjust="spacingAndGlyphs">2 324,48 €</text>
<rect class="pch" x="0" y="1258.7" width="241" height="27.3"/><rect class="pchL" x="0" y="1286" width="160.7" height="23"/><rect class="pchL" x="0" y="1414.3" width="160.7" height="47.4"/>
<rect class="box" x="0" y="1258.7" width="241" height="203"/>
<text class="b k m" x="120.6" y="1276" font-size="13" textLength="230" lengthAdjust="spacingAndGlyphs">Tercera Deuda con la Tasa de Interés más Alta</text>
<text class="b k m" x="80.3" y="1300.7" font-size="11.3" textLength="101.8" lengthAdjust="spacingAndGlyphs">Fecha de Reembolso</text>
<text class="b k m" x="200.6" y="1301" font-size="9.8" textLength="46.4" lengthAdjust="spacingAndGlyphs">31/01/2029</text>
<circle class="ring" cx="121" cy="1361.7" r="35.6" stroke="#feebdf" stroke-width="23.7"/>
<path class="ring" d="M121 1326.1A35.6 35.6 0 0 1 153.2 1346.5" stroke="#f8d5be" stroke-width="23.7"/>
<text class="g g2 m" x="121" y="1364.5">18%</text>
<text class="b k m" x="80.3" y="1423.5" font-size="9" textLength="93.2" lengthAdjust="spacingAndGlyphs">Monto Total Adeudado</text>
<text class="b k m" x="80.3" y="1435.2" font-size="9" textLength="52.5" lengthAdjust="spacingAndGlyphs">Pago Mínimo</text>
<text class="b k m" x="80.3" y="1446.9" font-size="9" textLength="62" lengthAdjust="spacingAndGlyphs">Tasa de Interés</text>
<text class="b k m" x="80.3" y="1458.5" font-size="9" textLength="37" lengthAdjust="spacingAndGlyphs">Intereses</text>
<text class="a a2v e"><tspan x="236.4" y="1423">35 000,00 €</tspan><tspan x="236.4" dy="11.67">500,00 €</tspan><tspan x="238.9" dy="11.67">5,00%</tspan><tspan x="236.4" dy="11.67">5 690,31 €</tspan></text>
<rect class="pch" x="0" y="1473.3" width="241" height="27.4"/><rect class="pchL" x="0" y="1500.7" width="241" height="12"/><rect class="row" x="0" y="1512.7" width="241" height="170"/>
<path class="box" d="M0 1690V1473.3H241V1690M0 1500.7H241M0 1512.7H241"/>
<text class="b k m" x="121" y="1490" font-size="11" textLength="159">CRONOGRAMADEPAGOS</text>
<text class="b k m" x="40.6" y="1508.7" font-size="6.8" textLength="52.5" lengthAdjust="spacingAndGlyphs">PAGO MENSUAL</text>
<text class="b k m" x="122.8" y="1508.7" font-size="6.8" textLength="84" lengthAdjust="spacingAndGlyphs" clip-path="url(#cb)">CARGOS POR INTERESES</text>
<text class="b k m" x="200.6" y="1508.7" font-size="6.8" textLength="22.5" lengthAdjust="spacingAndGlyphs">SALDO</text>
<text class="a a2 e"><tspan x="77.8" y="1520">500,00 €</tspan><tspan x="77.8" dy="11.67">500,00 €</tspan><tspan x="77.8" dy="11.67">500,00 €</tspan><tspan x="77.8" dy="11.67">500,00 €</tspan><tspan x="77.8" dy="11.67">500,00 €</tspan><tspan x="77.8" dy="11.67">500,00 €</tspan><tspan x="77.8" dy="11.67">500,00 €</tspan><tspan x="77.8" dy="11.67">500,00 €</tspan><tspan x="77.8" dy="11.67">500,00 €</tspan><tspan x="77.8" dy="11.67">500,00 €</tspan><tspan x="77.8" dy="11.67">500,00 €</tspan><tspan x="77.8" dy="11.67">500,00 €</tspan><tspan x="77.8" dy="11.67">500,00 €</tspan><tspan x="77.8" dy="11.67">500,00 €</tspan></text>
<text class="a a2 e"><tspan x="157.8" y="1520">145,83 €</tspan><tspan x="157.8" dy="11.67">144,36 €</tspan><tspan x="157.8" dy="11.67">142,88 €</tspan><tspan x="157.8" dy="11.67">141,39 €</tspan><tspan x="157.8" dy="11.67">139,89 €</tspan><tspan x="157.8" dy="11.67">138,39 €</tspan><tspan x="157.8" dy="11.67">136,89 €</tspan><tspan x="157.8" dy="11.67">135,37 €</tspan><tspan x="157.8" dy="11.67">133,85 €</tspan><tspan x="157.8" dy="11.67">132,33 €</tspan><tspan x="157.8" dy="11.67">130,80 €</tspan><tspan x="157.8" dy="11.67">129,26 €</tspan><tspan x="157.8" dy="11.67">127,71 €</tspan><tspan x="157.8" dy="11.67">126,16 €</tspan></text>
<text class="a a2 e"><tspan x="237.8" y="1520">34 645,83 €</tspan><tspan x="237.8" dy="11.67">34 290,19 €</tspan><tspan x="237.8" dy="11.67">33 933,07 €</tspan><tspan x="237.8" dy="11.67">33 574,45 €</tspan><tspan x="237.8" dy="11.67">33 214,35 €</tspan><tspan x="237.8" dy="11.67">32 852,74 €</tspan><tspan x="237.8" dy="11.67">32 489,63 €</tspan><tspan x="237.8" dy="11.67">32 125,00 €</tspan><tspan x="237.8" dy="11.67">31 758,86 €</tspan><tspan x="237.8" dy="11.67">31 391,18 €</tspan><tspan x="237.8" dy="11.67">31 021,98 €</tspan><tspan x="237.8" dy="11.67">30 651,24 €</tspan><tspan x="237.8" dy="11.67">30 278,95 €</tspan><tspan x="237.8" dy="11.67">29 905,11 €</tspan></text>
</g>

<g id="ava-col4" transform="translate(1587.6 0)">
<rect fill="#fff" x="0" y="1211.3" width="340" height="35.4"/><rect class="pnkL" x="0" y="1211.3" width="160.7" height="35.4"/><rect class="box" x="0" y="1211.3" width="340" height="35.4"/><path class="box" d="M160.7 1211.3V1246.7"/>
<text class="b k m" x="80" y="1234" font-size="15" textLength="127.7" lengthAdjust="spacingAndGlyphs">Fecha de Reembolso</text>
<text class="b k m" x="247" y="1235" font-size="15" textLength="76.5" lengthAdjust="spacingAndGlyphs">31/08/2030</text>
<rect class="pnk" x="0" y="1258.7" width="241" height="27.3"/><rect class="pnkL" x="0" y="1286" width="160.7" height="23"/><rect class="pnkL" x="0" y="1414.3" width="160.7" height="47.4"/>
<rect class="box" x="0" y="1258.7" width="241" height="203"/>
<text class="b k m" x="120.6" y="1276" font-size="13" textLength="226" lengthAdjust="spacingAndGlyphs">Cuarta Deuda con la Tasa de Interés más Alta</text>
<text class="b k m" x="80.3" y="1300.7" font-size="11.3" textLength="101.8" lengthAdjust="spacingAndGlyphs">Fecha de Reembolso</text>
<text class="b k m" x="200.6" y="1301" font-size="9.8" textLength="46.4" lengthAdjust="spacingAndGlyphs">31/07/2029</text>
<circle class="ring" cx="120.6" cy="1361.7" r="35.6" stroke="#f5e6ee" stroke-width="23.7"/>
<path class="ring" d="M120.6 1326.1A35.6 35.6 0 0 1 152.8 1346.5" stroke="#f0d2e1" stroke-width="23.7"/>
<text class="g g2 m" x="120.6" y="1364.2">18%</text>
<text class="b k m" x="80.3" y="1423.5" font-size="9" textLength="93.2" lengthAdjust="spacingAndGlyphs">Monto Total Adeudado</text>
<text class="b k m" x="80.3" y="1435.2" font-size="9" textLength="52.5" lengthAdjust="spacingAndGlyphs">Pago Mínimo</text>
<text class="b k m" x="80.3" y="1446.9" font-size="9" textLength="62" lengthAdjust="spacingAndGlyphs">Tasa de Interés</text>
<text class="b k m" x="80.3" y="1458.5" font-size="9" textLength="37" lengthAdjust="spacingAndGlyphs">Intereses</text>
<text class="a a2v e"><tspan x="236.4" y="1423">35 000,00 €</tspan><tspan x="236.4" dy="11.67">500,00 €</tspan><tspan x="238.9" dy="11.67">5,00%</tspan><tspan x="236.4" dy="11.67">6 091,59 €</tspan></text>
<rect class="pnk" x="0" y="1473.3" width="241" height="27.4"/><rect class="pnkL" x="0" y="1500.7" width="241" height="12"/><rect class="row" x="0" y="1512.7" width="241" height="170"/>
<path class="box" d="M0 1690V1473.3H241V1690M0 1500.7H241M0 1512.7H241"/>
<text class="b k m" x="121" y="1490" font-size="11" textLength="159">CRONOGRAMADEPAGOS</text>
<text class="b k m" x="40.6" y="1508.7" font-size="6.8" textLength="52.5" lengthAdjust="spacingAndGlyphs">PAGO MENSUAL</text>
<text class="b k m" x="122.8" y="1508.7" font-size="6.8" textLength="84" lengthAdjust="spacingAndGlyphs" clip-path="url(#cb)">CARGOS POR INTERESES</text>
<text class="b k m" x="200.6" y="1508.7" font-size="6.8" textLength="22.5" lengthAdjust="spacingAndGlyphs">SALDO</text>
<text class="a a2 e"><tspan x="77.8" y="1520">500,00 €</tspan><tspan x="77.8" dy="11.67">500,00 €</tspan><tspan x="77.8" dy="11.67">500,00 €</tspan><tspan x="77.8" dy="11.67">500,00 €</tspan><tspan x="77.8" dy="11.67">500,00 €</tspan><tspan x="77.8" dy="11.67">500,00 €</tspan><tspan x="77.8" dy="11.67">500,00 €</tspan><tspan x="77.8" dy="11.67">500,00 €</tspan><tspan x="77.8" dy="11.67">500,00 €</tspan><tspan x="77.8" dy="11.67">500,00 €</tspan><tspan x="77.8" dy="11.67">500,00 €</tspan><tspan x="77.8" dy="11.67">500,00 €</tspan><tspan x="77.8" dy="11.67">500,00 €</tspan><tspan x="77.8" dy="11.67">500,00 €</tspan></text>
<text class="a a2 e"><tspan x="157.8" y="1520">145,83 €</tspan><tspan x="157.8" dy="11.67">144,36 €</tspan><tspan x="157.8" dy="11.67">142,88 €</tspan><tspan x="157.8" dy="11.67">141,39 €</tspan><tspan x="157.8" dy="11.67">139,89 €</tspan><tspan x="157.8" dy="11.67">138,39 €</tspan><tspan x="157.8" dy="11.67">136,89 €</tspan><tspan x="157.8" dy="11.67">135,37 €</tspan><tspan x="157.8" dy="11.67">133,85 €</tspan><tspan x="157.8" dy="11.67">132,33 €</tspan><tspan x="157.8" dy="11.67">130,80 €</tspan><tspan x="157.8" dy="11.67">129,26 €</tspan><tspan x="157.8" dy="11.67">127,71 €</tspan><tspan x="157.8" dy="11.67">126,16 €</tspan></text>
<text class="a a2 e"><tspan x="237.8" y="1520">34 645,83 €</tspan><tspan x="237.8" dy="11.67">34 290,19 €</tspan><tspan x="237.8" dy="11.67">33 933,07 €</tspan><tspan x="237.8" dy="11.67">33 574,45 €</tspan><tspan x="237.8" dy="11.67">33 214,35 €</tspan><tspan x="237.8" dy="11.67">32 852,74 €</tspan><tspan x="237.8" dy="11.67">32 489,63 €</tspan><tspan x="237.8" dy="11.67">32 125,00 €</tspan><tspan x="237.8" dy="11.67">31 758,86 €</tspan><tspan x="237.8" dy="11.67">31 391,18 €</tspan><tspan x="237.8" dy="11.67">31 021,98 €</tspan><tspan x="237.8" dy="11.67">30 651,24 €</tspan><tspan x="237.8" dy="11.67">30 278,95 €</tspan><tspan x="237.8" dy="11.67">29 905,11 €</tspan></text>
</g>

<g id="ava-col5" transform="translate(1841.3 0)">
<rect class="teal" x="0" y="1258.7" width="241" height="27.3"/><rect class="tealL" x="0" y="1286" width="160.7" height="23"/><rect class="tealL" x="0" y="1414.3" width="160.7" height="47.4"/>
<rect class="box" x="0" y="1258.7" width="241" height="203"/>
<text class="b k m" x="120.6" y="1276" font-size="13" textLength="226" lengthAdjust="spacingAndGlyphs">Quinta Deuda con la Tasa de Interés más Alta</text>
<text class="b k m" x="80.3" y="1300.7" font-size="11.3" textLength="101.8" lengthAdjust="spacingAndGlyphs">Fecha de Reembolso</text>
<circle class="ring" cx="121" cy="1361.7" r="35.6" stroke="#e6f4f9" stroke-width="23.7"/>
<text class="b k m" x="80.3" y="1423.5" font-size="9" textLength="93.2" lengthAdjust="spacingAndGlyphs">Monto Total Adeudado</text>
<text class="b k m" x="80.3" y="1435.2" font-size="9" textLength="52.5" lengthAdjust="spacingAndGlyphs">Pago Mínimo</text>
<text class="b k m" x="80.3" y="1446.9" font-size="9" textLength="62" lengthAdjust="spacingAndGlyphs">Tasa de Interés</text>
<text class="b k m" x="80.3" y="1458.5" font-size="9" textLength="37" lengthAdjust="spacingAndGlyphs">Intereses</text>
<rect class="teal" x="0" y="1473.3" width="241" height="27.4"/><rect class="tealL" x="0" y="1500.7" width="241" height="12"/><rect class="row" x="0" y="1512.7" width="241" height="170"/>
<path class="box" d="M0 1690V1473.3H241V1690M0 1500.7H241M0 1512.7H241"/>
<text class="b k m" x="121" y="1490" font-size="11" textLength="159">CRONOGRAMADEPAGOS</text>
<text class="b k m" x="40.6" y="1508.7" font-size="6.8" textLength="52.5" lengthAdjust="spacingAndGlyphs">PAGO MENSUAL</text>
<text class="a a2 e"><tspan x="77.8" y="1520">500,00 €</tspan><tspan x="77.8" dy="11.67">500,00 €</tspan><tspan x="77.8" dy="11.67">500,00 €</tspan><tspan x="77.8" dy="11.67">500,00 €</tspan><tspan x="77.8" dy="11.67">500,00 €</tspan><tspan x="77.8" dy="11.67">500,00 €</tspan><tspan x="77.8" dy="11.67">500,00 €</tspan><tspan x="77.8" dy="11.67">500,00 €</tspan><tspan x="77.8" dy="11.67">500,00 €</tspan><tspan x="77.8" dy="11.67">500,00 €</tspan><tspan x="77.8" dy="11.67">500,00 €</tspan><tspan x="77.8" dy="11.67">500,00 €</tspan><tspan x="77.8" dy="11.67">500,00 €</tspan><tspan x="77.8" dy="11.67">500,00 €</tspan></text>
</g>
</g>

<g id="callout-aborda"><text class="c" x="329" y="749.3" textLength="839" lengthAdjust="spacingAndGlyphs">Aborda tus deudas una por una, comenzando por la más pequeña</text></g>
<g id="callout-sigue"><text class="c" x="1436.4" y="749.3" textLength="286.9" lengthAdjust="spacingAndGlyphs">Sigue hasta 20 deudas</text></g>
<g id="callout-define">
<text class="c m" x="1736" y="899.3" textLength="118" lengthAdjust="spacingAndGlyphs">Define tu</text>
<text class="c" x="1605.3" y="933.3" textLength="268.7" lengthAdjust="spacingAndGlyphs">tasa de interés, saldo</text>
<text class="c" x="1570" y="967.3" textLength="338.8" lengthAdjust="spacingAndGlyphs">pendiente y pago mensual</text>
</g>
<g id="callout-descubre">
<text class="c" x="1613" y="1039.3" textLength="296" lengthAdjust="spacingAndGlyphs">Descubre exactamente</text>
<text class="c" x="1591" y="1073.3" textLength="339" lengthAdjust="spacingAndGlyphs">cuándo habrás pagado tus</text>
<text class="c" x="1714.8" y="1107.3" textLength="92.7" lengthAdjust="spacingAndGlyphs">deudas</text>
</g>
<g id="callout-elimina">
<text class="c" x="46.7" y="1406.3" textLength="346" lengthAdjust="spacingAndGlyphs">Elimina primero las deudas</text>
<text class="c" x="103.3" y="1440.3" textLength="239" lengthAdjust="spacingAndGlyphs">con intereses altos</text>
<text class="c" x="79" y="1474.3" textLength="288.7" lengthAdjust="spacingAndGlyphs">para reducir los gastos</text>
</g>

<g id="connectors">
<path class="conn" d="M314.4 740.3H114Q89 740.3 89 765V805"/>
<path class="conn" d="M1431.7 740.3H1309Q1286 740.3 1286 764V854.3"/>
<path class="conn" d="M1596.3 927.3H1481Q1457.8 927.3 1457.8 951V1075"/>
<path class="conn" d="M1760.4 1117.3V1128Q1760.4 1136 1769 1136H1871Q1895 1136 1895 1160V1231.7"/>
<path class="conn" d="M402.7 1399.3H428Q451.3 1399.3 451.3 1376V1250Q451.3 1235.7 466 1235.7H472.7"/>
</g>
</svg>
